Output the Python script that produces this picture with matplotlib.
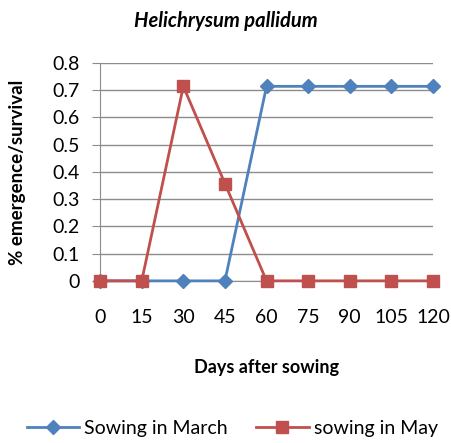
import matplotlib
matplotlib.use("Agg")
from matplotlib import pyplot as plt

plt.rcParams['font.family'] = ['Lato', 'DejaVu Sans']

days = ['0', '15', '30', '45', '60', '75', '90', '105', '120']
march = [0, 0, 0, 0, 0.714, 0.714, 0.714, 0.714, 0.714]
may = [0, 0, 0.714, 0.357, 0, 0, 0, 0, 0]

fig = plt.figure(figsize=(4.51, 4.43), dpi=100)
ax = fig.add_axes([0.222, 0.366, 0.738, 0.492])

x = range(len(days))
ax.plot(x, march, color='#4F81BD', lw=2, marker='D', ms=7,
        label='Sowing in March', clip_on=False, zorder=3)
ax.plot(x, may, color='#C0504D', lw=2, marker='s', ms=9,
        label='sowing in May', clip_on=False, zorder=4)

ax.set_xlim(0, len(days) - 1)
ax.set_ylim(0, 0.8)
ax.set_xticks(list(x))
ax.set_xticklabels(days, fontsize=14)
yt = [i / 10 for i in range(9)]
ax.set_yticks(yt)
ax.set_yticklabels(['0'] + ['%.1f' % v for v in yt[1:]], fontsize=14)
ax.grid(axis='y', color='#8c8c8c', lw=1)
ax.set_axisbelow(True)
for s in ['top', 'right']:
    ax.spines[s].set_visible(False)
ax.spines['left'].set_color('#8c8c8c')
ax.spines['bottom'].set_color('#8c8c8c')
ax.tick_params(axis='y', length=6, color='#8c8c8c', pad=9)
ax.tick_params(axis='x', length=0, pad=20)

fig.suptitle('Helichrysum pallidum', x=0.5, y=0.975, fontsize=14.5,
             fontstyle='italic', fontweight='bold')
ax.set_xlabel('Days after sowing', fontsize=13, fontweight='bold', labelpad=24)
ax.set_ylabel('% emergence/survival', fontsize=13.5, fontweight='bold', labelpad=19)

fig.legend(loc='lower center', bbox_to_anchor=(0.515, -0.025), ncol=2, frameon=False,
           fontsize=14, handlelength=2.7, handletextpad=0.25, columnspacing=1.45)

fig.savefig('out.png', dpi=100)
